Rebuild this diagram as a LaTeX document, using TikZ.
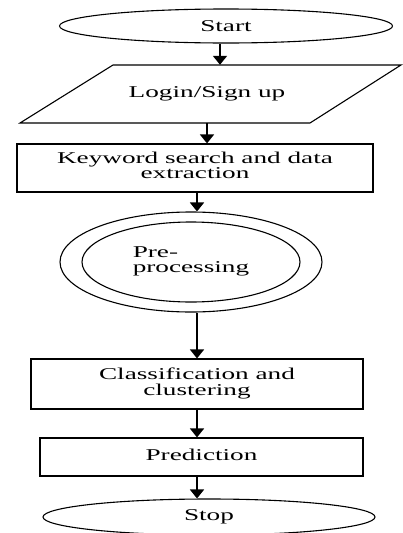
\documentclass[tikz,border=0pt]{standalone}
\usepackage{fontspec}
\setmainfont{Liberation Serif}
\usetikzlibrary{arrows.meta,shapes.geometric}
% horizontally widened text, as set in the flowchart
\newcommand{\wide}[1]{\scalebox{1.65}[1]{#1}}
\begin{document}
\begin{tikzpicture}[x=1pt,y=-1pt,
  lbl/.style={font=\fontsize{16.5}{16}\selectfont, text=black, align=center, inner sep=0pt},
  box/.style={draw, line width=1.2pt, lbl},
  oval/.style={draw, ellipse, line width=1.1pt, lbl},
  arr/.style={line width=1.8pt, -{Triangle[width=14pt,length=9pt]}}]
\useasboundingbox (0,0) rectangle (402,533);

% terminal: start
\node[oval, minimum width=333, minimum height=34] (start) at (226,26) {\wide{Start}};

% input/output: parallelogram drawn as a path, label node in its middle
\draw[line width=1.1pt] (113,65) -- (401,65) -- (310,123) -- (20,123) -- cycle;
\node[lbl, minimum width=200, minimum height=58] (login) at (207,94) {\raisebox{4pt}{\wide{Login/Sign up}}};

% process boxes
\node[box, minimum width=356, minimum height=48] (keyword) at (195,168)
  {\raisebox{3pt}{\begin{tabular}{@{}c@{}}\wide{Keyword search and data}\\[-1pt]\wide{extraction}\end{tabular}}};

% double ellipse: pre-processing
\node[oval, minimum width=262, minimum height=100] (pre) at (191,262) {};
\node[oval, minimum width=218, minimum height=80] (preinner) at (191,262)
  {\begin{tabular}{@{}l@{}}\wide{Pre-}\\[-1pt]\wide{processing}\end{tabular}};

\node[box, minimum width=332, minimum height=50] (class) at (197,384)
  {\raisebox{3pt}{\begin{tabular}{@{}c@{}}\wide{Classification and}\\[-1pt]\wide{clustering}\end{tabular}}};

\node[box, minimum width=323, minimum height=38] (pred) at (201.5,457)
  {\raisebox{4pt}{\wide{Prediction}}};

% terminal: stop
\node[oval, minimum width=332, minimum height=36] (stop) at (209,517) {\wide{Stop}};

% connectors
\draw[arr] (start.south -| 220,0) -- (login.north -| 220,0);
\draw[arr] (login.south -| 207,0) -- (keyword.north -| 207,0);
\draw[arr] (keyword.south -| 197,0) -- (pre.north -| 197,0);
\draw[arr] (pre.south -| 197,0) -- (class.north -| 197,0);
\draw[arr] (class.south -| 197,0) -- (pred.north -| 197,0);
\draw[arr] (pred.south -| 197,0) -- (stop.north -| 197,0);
\end{tikzpicture}
\end{document}
